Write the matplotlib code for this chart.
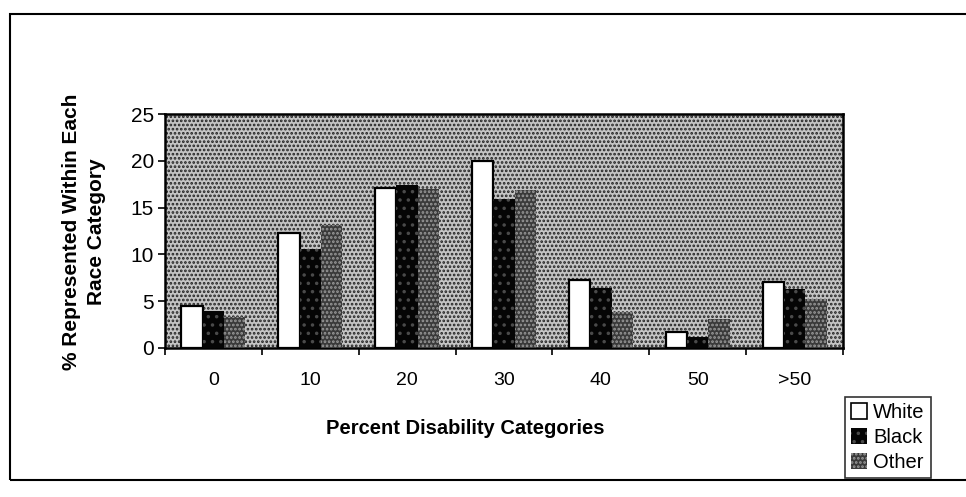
import matplotlib.pyplot as plt
from matplotlib.patches import Rectangle
import numpy as np

# percent of each race group falling in each disability category
categories = ['0', '10', '20', '30', '40', '50', '>50']
white = [4.5, 12.3, 17.1, 20.0, 7.3, 1.7, 7.1]
black = [3.9, 10.6, 17.4, 15.9, 6.4, 1.2, 6.3]
other = [3.3, 13.1, 17.0, 16.9, 3.8, 3.1, 5.2]
yticks = [0, 5, 10, 15, 20, 25]

plt.rcParams['font.family'] = ['Liberation Sans', 'DejaVu Sans']
plt.rcParams['hatch.linewidth'] = 1.3

fig = plt.figure(figsize=(9.66, 4.97), dpi=100)
ax = fig.add_axes([0.1708, 0.2998, 0.7019, 0.4708])

# outer chart border
fig.patches.append(Rectangle((10 / 966, 1 - 480 / 497), 1.0, 466 / 497,
                             transform=fig.transFigure, fill=False,
                             edgecolor='black', linewidth=1.5))

# dotted plot area
ax.set_facecolor('#c4c4c4')
ax.add_patch(Rectangle((0, 0), 1, 1, transform=ax.transAxes, facecolor='none',
                       edgecolor='#222222', hatch='....', linewidth=0, zorder=0))

black_style = dict(facecolor='#050505', edgecolor='#4a4a4a', hatch='..', linewidth=0)
other_style = dict(facecolor='#3a3a3a', edgecolor='#9a9a9a', hatch='....', linewidth=0)

x = np.arange(len(categories)) + 0.5
w = 0.22
ax.bar(x - w, white, w, color='white', edgecolor='black', linewidth=1.6, zorder=3)
ax.bar(x, black, w, zorder=3, **black_style)
ax.bar(x + w, other, w, zorder=3, **other_style)

ax.set_xlim(0, len(categories))
ax.set_ylim(0, 25)
ax.set_yticks(yticks)
ax.set_xticks(np.arange(len(categories) + 1))
ax.set_xticklabels([])
ax.set_xticks(x, minor=True)
ax.set_xticklabels(categories, minor=True)
ax.tick_params(axis='x', which='major', direction='out', length=5, width=1.2)
ax.tick_params(axis='x', which='minor', length=0, pad=17, labelsize=14)
ax.tick_params(axis='y', direction='out', length=5, width=1.2, labelsize=15, pad=3)
for s in ax.spines.values():
    s.set_linewidth(1.8)

fig.text(465 / 966, 1 - 428 / 497, 'Percent Disability Categories', fontsize=14.5,
         fontweight='bold', ha='center', va='center')
fig.text(84 / 966, 1 - 232 / 497, '% Represented Within Each\nRace Category',
         fontsize=15, fontweight='bold', ha='center', va='center',
         rotation=90, linespacing=1.35)

bars = [Rectangle((0, 0), 1, 1, facecolor='white', edgecolor='black', linewidth=1.2),
        Rectangle((0, 0), 1, 1, **black_style),
        Rectangle((0, 0), 1, 1, **other_style)]
leg = fig.legend(bars, ['White', 'Black', 'Other'], loc='lower left',
                 bbox_to_anchor=(845 / 966, 1 - 478 / 497), fontsize=14.5,
                 frameon=True, fancybox=False, handlelength=0.8, handleheight=0.8,
                 handletextpad=0.3, labelspacing=0.3, borderpad=0.3,
                 borderaxespad=0)
leg.get_frame().set_edgecolor('black')
leg.get_frame().set_linewidth(1.2)

fig.savefig('out.png', dpi=100)
